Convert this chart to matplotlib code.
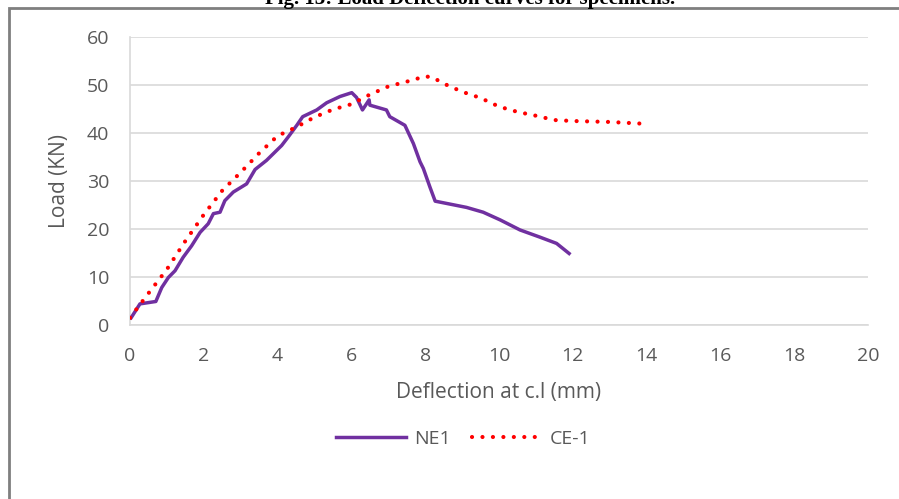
import matplotlib

matplotlib.use("Agg")
import matplotlib.pyplot as plt  # noqa: E402
from matplotlib.patches import Rectangle  # noqa: E402

# ---- data --------------------------------------------------------------
ne1_x = [0.03, 0.27, 0.70, 0.86, 1.04, 1.22, 1.44, 1.67, 1.90, 2.12, 2.26, 2.44, 2.57,
         2.80, 3.16, 3.39, 3.70, 4.11, 4.29, 4.52, 4.68, 5.06, 5.33, 5.69, 6.01, 6.14,
         6.30, 6.48, 6.50, 6.95, 7.04, 7.45, 7.68, 7.86, 7.95, 8.13, 8.27, 9.12, 9.57,
         10.03, 10.57, 11.11, 11.56, 11.90]
ne1_y = [1.5, 4.4, 4.9, 7.8, 9.9, 11.3, 14.1, 16.5, 19.3, 21.1, 23.2, 23.5, 25.9,
         27.7, 29.4, 32.4, 34.3, 37.4, 39.2, 41.6, 43.4, 44.8, 46.3, 47.6, 48.4, 47.4,
         44.8, 46.9, 45.8, 44.8, 43.4, 41.6, 37.8, 34.0, 32.6, 28.7, 25.8, 24.5, 23.5,
         21.9, 19.8, 18.3, 17.0, 14.9]

ce1_x = [0.0, 0.5, 1.0, 1.5, 2.0, 2.5, 3.0, 3.5, 4.0, 4.5, 5.0, 5.5, 6.0, 6.5, 7.0,
         7.5, 8.0, 8.2, 8.5, 9.0, 9.5, 10.0, 10.5, 11.0, 11.5, 12.0, 13.0, 14.0]
ce1_y = [1.5, 6.6, 11.6, 17.5, 23.0, 28.0, 31.8, 35.8, 39.4, 41.2, 43.3, 44.9, 46.0,
         48.0, 49.7, 50.7, 51.8, 51.6, 50.3, 48.6, 47.3, 45.5, 44.4, 43.6, 42.7, 42.5,
         42.3, 41.9]

x_ticks = [0, 2, 4, 6, 8, 10, 12, 14, 16, 18, 20]
y_ticks = [0, 10, 20, 30, 40, 50, 60]

_PURPLE, _RED, _GREY = "#7030a0", "#ff0000", "#595959"
_FONT = ["Open Sans", "DejaVu Sans"]

plt.rcParams["font.family"] = _FONT

fig = plt.figure(figsize=(8.99, 4.99), dpi=100)
W, H = 899, 499

# page frame and the cut-off caption above it
fig.text(0.523, 1 - 4 / H, "Fig. 13: Load Deflection curves for specimens.", ha="center",
         va="baseline", family="Liberation Serif", weight="bold", fontsize=15, color="black")
fig.patches.append(Rectangle((9 / W, -0.1), 1.2, 1.1 - 8 / H, transform=fig.transFigure,
                             fill=False, edgecolor="#7f7f7f", lw=2))

ax = fig.add_axes((130 / W, 1 - 325 / H, 738 / W, 288 / H))
ax.plot(ne1_x, ne1_y, "-", color=_PURPLE, lw=2.5, label="NE1", zorder=3)
ax.plot(ce1_x, ce1_y, linestyle=(0, (0.01, 2.5)), dash_capstyle="round", color=_RED,
        lw=3.0, label="CE-1", zorder=4)

ax.set_xlim(0, 20)
ax.set_ylim(0, 60)
ax.set_xticks(x_ticks)
ax.set_yticks(y_ticks)
ax.grid(axis="y", color="#d9d9d9", lw=1.2)
ax.set_axisbelow(True)
for side in ("top", "right"):
    ax.spines[side].set_visible(False)
for side in ("left", "bottom"):
    ax.spines[side].set_color("#d9d9d9")
    ax.spines[side].set_linewidth(1.2)
ax.tick_params(length=0, labelsize=14, labelcolor=_GREY)
ax.tick_params(axis="x", pad=16)
ax.tick_params(axis="y", pad=15)
ax.set_xlabel("Deflection at c.l (mm)", fontsize=15, color=_GREY, labelpad=12)
ax.set_ylabel("Load (KN)", fontsize=15, color=_GREY, labelpad=12)

ax.legend(loc="center", bbox_to_anchor=((463 - 130) / 738, (325 - 439) / 288), ncol=2,
          frameon=False, fontsize=14, labelcolor=_GREY, handlelength=3.6,
          handletextpad=0.4, columnspacing=1.1)

fig.savefig("out.png", dpi=100)
plt.close(fig)
